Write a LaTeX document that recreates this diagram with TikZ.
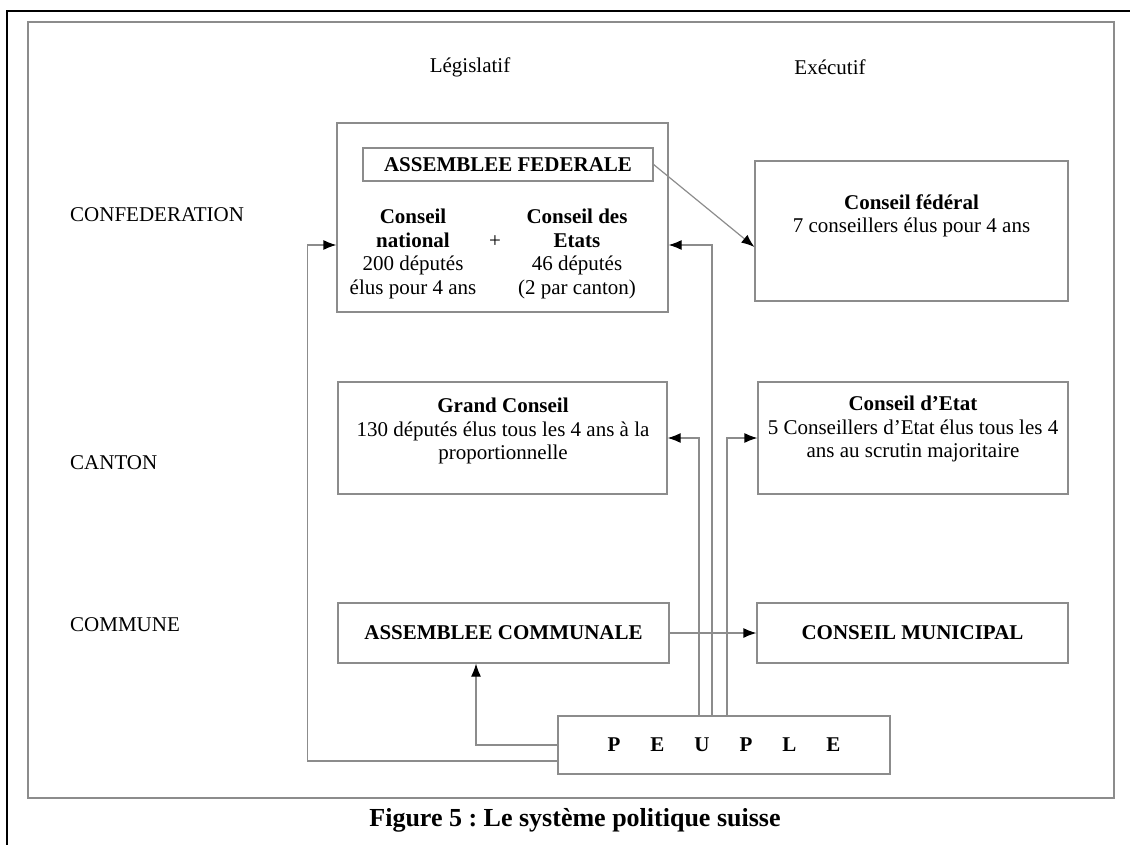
\documentclass[tikz,border=0pt]{standalone}
\usepackage{fontspec}
\setmainfont{Liberation Serif}
\frenchspacing
\usepackage{tikz}
\usetikzlibrary{arrows.meta, calc}

\tikzset{
  box/.style={draw=black!45, line width=1.2pt, inner sep=0pt},
  link/.style={draw=black!45, line width=1.2pt, -{Latex[length=13pt,width=10pt,color=black]}},
  txt/.style={align=center, inner sep=0pt, font=\fontsize{21}{23.5}\selectfont},
}

\begin{document}
\begin{tikzpicture}[x=1pt, y=-1pt]
    \useasboundingbox (0,0) rectangle (1130,845);

    % Draw the page frame and the grey border of the figure
    \draw[line width=2pt] (7,845) -- (7,11) -- (1130,11);
    \draw[black!45, line width=1.2pt] (28,22) rectangle (1114,798);

    % Column and row titles
    \node[txt] (leg) at (470,67) {Législatif};
    \node[txt] (exe) at (830,67) {Exécutif};
    \node[txt, anchor=west] (confed) at (70,215) {CONFEDERATION};
    \node[txt, anchor=west] (canton) at (70,463) {CANTON};
    \node[txt, anchor=west] (commune) at (70,625) {COMMUNE};

    % Confederation
    \node[box, minimum width=331, minimum height=189] (parl) at (502.5,217.5) {};
    \node[box, txt, minimum width=290, minimum height=33] (af) at (508,164.5) {\textbf{ASSEMBLEE FEDERALE}};
    \node[txt] (cn) at (413,254) {\textbf{Conseil}\\\textbf{national}\\200 députés\\élus pour 4 ans};
    \node[txt] (plus) at (495,242) {+};
    \node[txt] (cde) at (577,254) {\textbf{Conseil des}\\\textbf{Etats}\\46 députés\\(2 par canton)};
    \node[box, minimum width=313, minimum height=140] (cf) at (911.5,231) {};
    \node[txt] (cftxt) at (911.5,216) {\textbf{Conseil fédéral}\\7 conseillers élus pour 4 ans};

    % Canton
    \node[box, minimum width=329, minimum height=112] (gc) at (502.5,438) {};
    \node[txt] (gctxt) at (503,431) {\textbf{Grand Conseil}\\130 députés élus tous les 4 ans à la\\proportionnelle};
    \node[box, minimum width=310, minimum height=112] (ce) at (913,438) {};
    \node[txt] (cetxt) at (913,429) {\textbf{Conseil d’Etat}\\5 Conseillers d’Etat élus tous les 4\\ans au scrutin majoritaire};

    % Commune
    \node[box, txt, minimum width=331, minimum height=60] (acom) at (503.5,633) {\textbf{ASSEMBLEE COMMUNALE}};
    \node[box, txt, minimum width=311, minimum height=60] (cm) at (912.5,633) {\textbf{CONSEIL MUNICIPAL}};

    % People
    \node[box, txt, minimum width=332, minimum height=58] (peuple) at (724,745)
        {\textbf{P\hspace{30pt}E\hspace{30pt}U\hspace{30pt}P\hspace{30pt}L\hspace{30pt}E}};

    % Elections
    \draw[link] (af.east) -- ([yshift=-16pt]cf.west);
    \draw[link] (acom.east) -- (cm.west);
    \draw[link] ([yshift=-16pt]peuple.west) -- ++(-250,0) |- ([yshift=-27.5pt]parl.west);
    \draw[link] (peuple.west) -| ([xshift=-27.5pt]acom.south);
    \draw[link] ([xshift=-25pt]peuple.north) |- (gc.east);
    \draw[link] ([xshift=-12pt]peuple.north) |- ([yshift=-27.5pt]parl.east);
    \draw[link] ([xshift=3pt]peuple.north) |- (ce.west);

    % Caption
    \node[font=\fontsize{26}{29}\selectfont\bfseries] (caption) at (575,820) {Figure 5 : Le système politique suisse};

\end{tikzpicture}
\end{document}
